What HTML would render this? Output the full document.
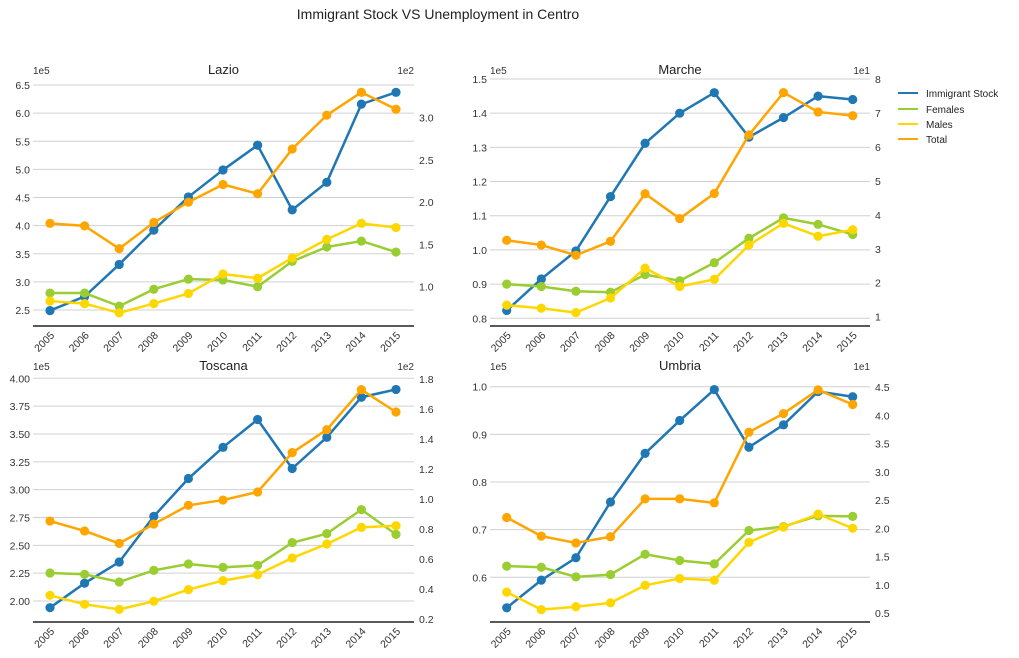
<!DOCTYPE html>
<html><head><meta charset="utf-8"><style>
body{margin:0;background:#fff;}
svg{display:block;font-family:"Liberation Sans","DejaVu Sans",sans-serif;}
</style></head><body>
<svg id="chart" width="1019" height="658" viewBox="0 0 1019 658" xmlns="http://www.w3.org/2000/svg">
<text x="438" y="19" text-anchor="middle" font-size="14" fill="#222">Immigrant Stock VS Unemployment in Centro</text>
<g font-size="10" fill="#222">
<g><line x1="898" y1="93" x2="918" y2="93" stroke="#1f77b4" stroke-width="2"/><text x="926" y="97">Immigrant Stock</text></g>
<g><line x1="898" y1="109" x2="918" y2="109" stroke="#9acd32" stroke-width="2"/><text x="926" y="113">Females</text></g>
<g><line x1="898" y1="124" x2="918" y2="124" stroke="#ffd700" stroke-width="2"/><text x="926" y="128">Males</text></g>
<g><line x1="898" y1="139" x2="918" y2="139" stroke="#ffa500" stroke-width="2"/><text x="926" y="143">Total</text></g>
</g>
</svg>
<script>
const years = [2005,2006,2007,2008,2009,2010,2011,2012,2013,2014,2015];
// Immigrant stock (left axis, x1e5)
const lazioStock   = [2.49,2.74,3.31,3.92,4.51,4.99,5.43,4.28,4.77,6.16,6.37];
const marcheStock  = [0.823,0.915,0.997,1.156,1.312,1.400,1.460,1.330,1.387,1.450,1.440];
const toscanaStock = [1.94,2.16,2.35,2.76,3.10,3.38,3.63,3.19,3.47,3.83,3.90];
const umbriaStock  = [0.536,0.594,0.641,0.758,0.860,0.929,0.994,0.873,0.920,0.990,0.979];
// Unemployment (right axis)
const lazioFemales = [0.925,0.925,0.77,0.97,1.09,1.08,1.00,1.30,1.47,1.54,1.41];
const lazioMales   = [0.83,0.80,0.69,0.80,0.92,1.15,1.10,1.34,1.56,1.75,1.70];
const lazioTotal   = [1.75,1.72,1.45,1.76,2.00,2.21,2.10,2.63,3.03,3.30,3.10];
const marcheFemales= [1.96,1.89,1.75,1.72,2.24,2.06,2.59,3.31,3.91,3.72,3.42];
const marcheMales  = [1.34,1.25,1.12,1.55,2.43,1.89,2.10,3.11,3.75,3.37,3.56];
const marcheTotal  = [3.25,3.11,2.81,3.22,4.62,3.89,4.63,6.35,7.60,7.03,6.92];
const toscanaFemales=[0.507,0.498,0.447,0.524,0.567,0.544,0.558,0.709,0.769,0.929,0.764];
const toscanaMales = [0.358,0.298,0.264,0.318,0.396,0.456,0.496,0.607,0.700,0.811,0.822];
const toscanaTotal = [0.853,0.787,0.704,0.833,0.958,0.993,1.047,1.309,1.462,1.729,1.580];
const umbriaFemales= [1.33,1.31,1.14,1.18,1.54,1.43,1.37,1.96,2.03,2.22,2.21];
const umbriaMales  = [0.87,0.56,0.61,0.68,0.99,1.11,1.08,1.75,2.02,2.25,2.00];
const umbriaTotal  = [2.19,1.86,1.74,1.85,2.52,2.52,2.45,3.70,4.03,4.45,4.19];
// tick labels
const lazioLeftTicks = ["2.5","3.0","3.5","4.0","4.5","5.0","5.5","6.0","6.5"];
const lazioRightTicks = ["1.0","1.5","2.0","2.5","3.0"];
const marcheLeftTicks = ["0.8","0.9","1.0","1.1","1.2","1.3","1.4","1.5"];
const marcheRightTicks = ["1","2","3","4","5","6","7","8"];
const toscanaLeftTicks = ["2.00","2.25","2.50","2.75","3.00","3.25","3.50","3.75","4.00"];
const toscanaRightTicks = ["0.2","0.4","0.6","0.8","1.0","1.2","1.4","1.6","1.8"];
const umbriaLeftTicks = ["0.6","0.7","0.8","0.9","1.0"];
const umbriaRightTicks = ["0.5","1.0","1.5","2.0","2.5","3.0","3.5","4.0","4.5"];

const NS="http://www.w3.org/2000/svg";
const svg=document.getElementById('chart');
function mk(tag,attrs,parent){const e=document.createElementNS(NS,tag);for(const k in attrs)e.setAttribute(k,attrs[k]);(parent||svg).appendChild(e);return e;}

const panels=[
 {key:'lazio',title:'Lazio',stock:lazioStock,fem:lazioFemales,mal:lazioMales,tot:lazioTotal,lt:lazioLeftTicks,rt:lazioRightTicks,
  x0:33,x1:414,xa:50,xb:396,bot:326,titleY:74,
  lv:[6.5,2.5],lp:[85,310],rv:[3.0,1.0],rp:[117.7,286.7],le:'1e5',re:'1e2'},
 {key:'marche',title:'Marche',stock:marcheStock,fem:marcheFemales,mal:marcheMales,tot:marcheTotal,lt:marcheLeftTicks,rt:marcheRightTicks,
  x0:490,x1:870,xa:506.7,xb:852.7,bot:326,titleY:74,
  lv:[1.5,0.8],lp:[79,318.3],rv:[8,1],rp:[79,316.7],le:'1e5',re:'1e1'},
 {key:'toscana',title:'Toscana',stock:toscanaStock,fem:toscanaFemales,mal:toscanaMales,tot:toscanaTotal,lt:toscanaLeftTicks,rt:toscanaRightTicks,
  x0:33,x1:414,xa:50,xb:396,bot:622,titleY:370,
  lv:[4.0,2.0],lp:[378.3,601],rv:[1.8,0.2],rp:[379,619],le:'1e5',re:'1e2'},
 {key:'umbria',title:'Umbria',stock:umbriaStock,fem:umbriaFemales,mal:umbriaMales,tot:umbriaTotal,lt:umbriaLeftTicks,rt:umbriaRightTicks,
  x0:490,x1:870,xa:506.7,xb:852.7,bot:622,titleY:370,
  lv:[1.0,0.6],lp:[386.7,577.3],rv:[4.5,0.5],rp:[387,613],le:'1e5',re:'1e1'}
];

panels.forEach(p=>{
 const g=mk('g',{});
 
 
 const xs=i=>p.xa+(p.xb-p.xa)*(years[i]-years[0])/(years[years.length-1]-years[0]);
 const yl=v=>p.lp[0]+(v-p.lv[0])*(p.lp[1]-p.lp[0])/(p.lv[1]-p.lv[0]);
 const yr=v=>p.rp[0]+(v-p.rv[0])*(p.rp[1]-p.rp[0])/(p.rv[1]-p.rv[0]);
 // grid + left ticks
 p.lt.forEach(t=>{const y=yl(parseFloat(t));
  const gl=mk('line',{x1:p.x0,x2:p.x1,y1:y,y2:y,stroke:'#d0d0d0','stroke-width':1},g);
  
  
  const tx=mk('text',{x:p.x0-3,y:y+4,'text-anchor':'end','font-size':10.5,fill:'#333'},g);tx.textContent=t;
  
  
 });
 p.rt.forEach(t=>{const y=yr(parseFloat(t));
  const tx=mk('text',{x:p.x1+5,y:y+4,'font-size':10.5,fill:'#333'},g);tx.textContent=t;
  
  
 });
 const e1=mk('text',{x:p.x0,y:p.titleY,'font-size':10,fill:'#333'},g);e1.textContent=p.le;
 
 
 const e2=mk('text',{x:p.x1,y:p.titleY,'font-size':10,fill:'#333','text-anchor':'end'},g);e2.textContent=p.re;
 
 
 const tt=mk('text',{x:(p.x0+p.x1)/2,y:p.titleY,'font-size':13,fill:'#222','text-anchor':'middle'},g);tt.textContent=p.title;
 
 
 const ax=mk('line',{x1:p.x0,x2:p.x1,y1:p.bot,y2:p.bot,stroke:'#222','stroke-width':1.5},g);
 
 
 years.forEach((yv,i)=>{const x=xs(i);
  const tx=mk('text',{x:x+5,y:p.bot+10,'font-size':10.5,fill:'#333','text-anchor':'end',transform:`rotate(-45 ${x+5} ${p.bot+10})`},g);tx.textContent=yv;
  
  
 });
 const series=[[p.stock,'#1f77b4',yl,'immigrant-stock'],[p.fem,'#9acd32',yr,'females'],[p.mal,'#ffd700',yr,'males'],[p.tot,'#ffa500',yr,'total']];
 series.forEach(([arr,c,f,nm])=>{
  const sg=mk('g',{},g);
  
  
  const pl=mk('polyline',{points:arr.map((v,i)=>xs(i)+','+f(v)).join(' '),fill:'none',stroke:c,'stroke-width':2.5,'stroke-linejoin':'round'},sg);
  
  
  arr.forEach((v,i)=>{const cc=mk('circle',{cx:xs(i),cy:f(v),r:4.6,fill:c},sg);
   
   
  });
 });
});
</script>
</body></html>
